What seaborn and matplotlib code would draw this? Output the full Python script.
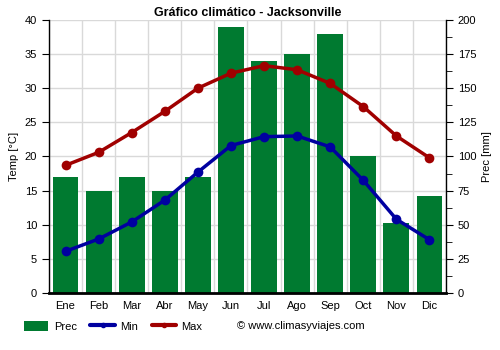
import matplotlib
matplotlib.use("Agg")
import matplotlib.pyplot as plt
from matplotlib.patches import Patch
from matplotlib.lines import Line2D
from matplotlib.ticker import MultipleLocator, FixedLocator
import seaborn as sns
import pandas as pd

months = ["Ene", "Feb", "Mar", "Abr", "May", "Jun", "Jul", "Ago", "Sep", "Oct", "Nov", "Dic"]
prec = [85, 75, 85, 75, 85, 195, 170, 175, 190, 100, 51, 71]
t_min = [6.1, 7.9, 10.4, 13.6, 17.7, 21.6, 22.9, 23.0, 21.4, 16.5, 10.8, 7.8]
t_max = [18.7, 20.6, 23.5, 26.6, 30.0, 32.2, 33.3, 32.7, 30.7, 27.3, 23.0, 19.8]

sns.set_style("white")
plt.rcParams["font.family"] = ["Liberation Sans", "DejaVu Sans"]
plt.rcParams.update({
    "text.color": "black",
    "axes.labelcolor": "black",
    "xtick.color": "black",
    "ytick.color": "black",
})

GREEN = "#007a30"
BLUE = "#0000a0"
RED = "#a00000"

df = pd.DataFrame({"mes": months, "prec": prec, "min": t_min, "max": t_max})
df["x"] = range(len(months))

fig = plt.figure(figsize=(5, 3.5), dpi=100)
ax2 = fig.add_axes([0.098, 0.163, 0.794, 0.78])
ax = ax2.twinx()
ax.yaxis.tick_left()
ax.yaxis.set_label_position("left")
ax2.yaxis.tick_right()
ax2.yaxis.set_label_position("right")

# precipitation bars on the back axis
sns.barplot(data=df, x="mes", y="prec", color=GREEN, saturation=1, width=0.78,
            linewidth=0, edgecolor="none", ax=ax2, zorder=2)
ax2.set_ylim(0, 200)
ax2.set_xlim(-0.5, 11.5)
ax2.yaxis.set_major_locator(MultipleLocator(25))
ax2.yaxis.set_minor_locator(MultipleLocator(12.5))
ax2.set_xticks(range(12))
ax2.set_xticklabels(months)
ax2.xaxis.set_minor_locator(FixedLocator([i + 0.5 for i in range(-1, 12)]))
ax2.tick_params(axis="x", which="major", length=0, labelsize=8, pad=6)
ax2.tick_params(axis="x", which="minor", length=4, width=1, direction="out", color="black")
ax2.tick_params(axis="y", which="major", length=5, labelsize=8, direction="out")
ax2.tick_params(axis="y", which="minor", length=4, direction="out")
ax2.set_xlabel("")
ax2.set_ylabel("Prec [mm]", fontsize=8)
ax2.grid(True, axis="y", which="major", color="#d9d9d9", lw=1, zorder=0)
ax2.grid(True, axis="x", which="minor", color="#d9d9d9", lw=1, zorder=0)
ax2.set_axisbelow(True)

# temperature lines on the front axis
sns.lineplot(data=df, x="x", y="min", color=BLUE, lw=2.5, marker="o", markersize=7,
             markeredgewidth=0, ax=ax, zorder=5)
sns.lineplot(data=df, x="x", y="max", color=RED, lw=2.5, marker="o", markersize=7,
             markeredgewidth=0, ax=ax, zorder=5)
ax.set_ylim(0, 40)
ax.set_xlim(-0.5, 11.5)
ax.yaxis.set_major_locator(MultipleLocator(5))
ax.tick_params(axis="y", length=5, labelsize=8, direction="out")
ax.set_ylabel("Temp [°C]", fontsize=8)
ax.set_xlabel("")

for a in (ax, ax2):
    for s in a.spines.values():
        s.set_visible(False)
ax2.spines["bottom"].set_visible(True)
ax2.spines["bottom"].set_color("black")
ax2.spines["bottom"].set_linewidth(2)
ax2.spines["bottom"].set_zorder(6)
for side in ("left", "right"):
    ax.spines[side].set_visible(True)
    ax.spines[side].set_color("black")
    ax.spines[side].set_linewidth(1)

ax.set_title("Gráfico climático - Jacksonville", fontsize=9, fontweight="bold", pad=3)

handles = [
    Patch(facecolor=GREEN, edgecolor="none"),
    Line2D([0], [0], color=BLUE, lw=3, marker="o", markersize=3),
    Line2D([0], [0], color=RED, lw=3, marker="o", markersize=3),
]
fig.legend(handles, ["Prec", "Min", "Max"], loc="center left", bbox_to_anchor=(0.048, 0.068),
           ncol=3, frameon=False, fontsize=8, handlelength=2.2, handleheight=1,
           columnspacing=1.2, handletextpad=0.5, borderpad=0, borderaxespad=0)
fig.text(0.474, 0.068, "© www.climasyviajes.com", fontsize=8, va="center", ha="left")

fig.savefig("out.png", dpi=100)
